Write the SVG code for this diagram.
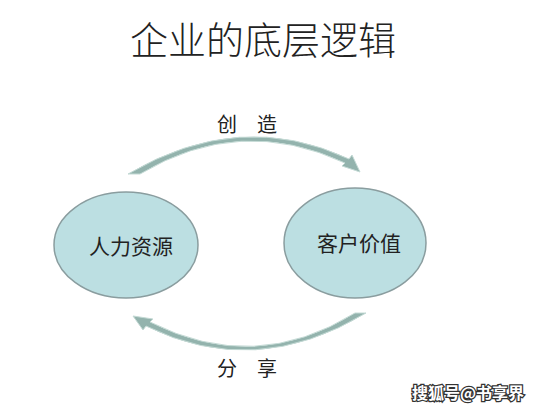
<svg xmlns="http://www.w3.org/2000/svg" width="534" height="413" viewBox="0 0 534 413">
<style>
text{font-family:"Noto Sans CJK SC","Liberation Sans",sans-serif;fill:#222}
.node{fill:#bcdfe2;stroke:#8a9d9f;stroke-width:1.5}
.arc{fill:#93b3ad;stroke:#c4dad5;stroke-width:1}
.lbl{font-size:20px;text-anchor:middle}
</style>
<rect width="534" height="413" fill="#fff"/>
<text x="263" y="54" font-size="38" font-weight="300" text-anchor="middle">企业的底层逻辑</text>
<g id="connectors">
<path class="arc" d="M128,174 L140,174 Q240,114 345,163 L342,166 L360,172 L352,155 L349,159 Q240,108 128,174 Z"/>
<path class="arc" d="M366,313 L355,313 Q255,375 150,322 L153,319 L133,316 L143,330 L146,326 Q255,380 366,313 Z"/>
<text class="lbl" x="247" y="132">创　造</text>
<text class="lbl" x="247" y="376">分　享</text>
</g>
<g id="node-hr">
<ellipse class="node" cx="126" cy="245" rx="72" ry="53"/>
<text x="131" y="254" font-size="21" text-anchor="middle">人力资源</text>
</g>
<g id="node-customer">
<ellipse class="node" cx="355" cy="243" rx="71" ry="55"/>
<text x="359" y="251" font-size="21" text-anchor="middle">客户价值</text>
</g>
<text x="468" y="399" font-size="16" font-weight="bold" text-anchor="middle" style="fill:#fff;stroke:#333;stroke-width:2.5;paint-order:stroke">搜狐号@书享界</text>
</svg>
